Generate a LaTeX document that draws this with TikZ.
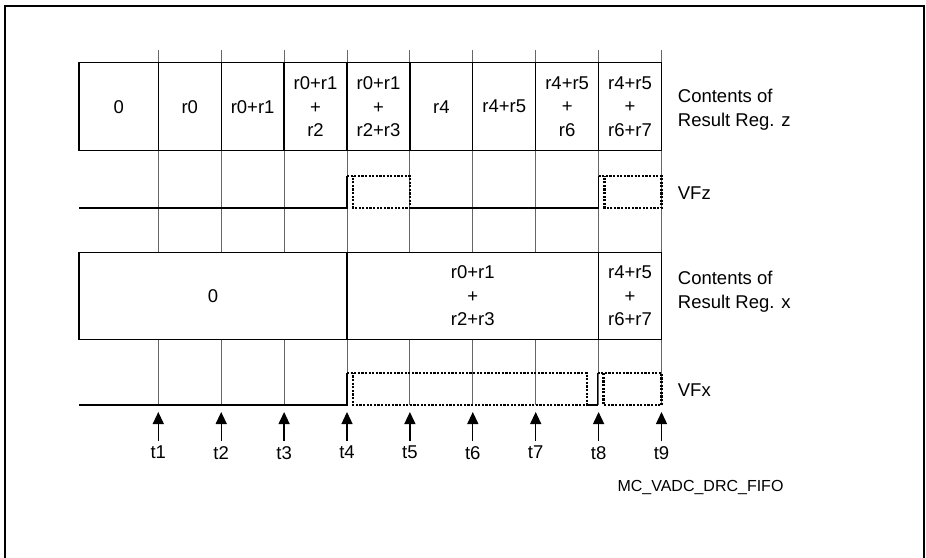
\documentclass[tikz,border=0pt]{standalone}
\usepackage{fontspec}
\setmainfont{Liberation Sans}
\usetikzlibrary{positioning,arrows.meta}

\tikzset{
  cell/.style={draw,fill=white,line width=1.3pt,inner sep=0pt,outer sep=0pt,
    align=center,minimum height=88pt,font=\fontsize{18.5}{23.5}\selectfont},
  gridline/.style={draw=black!60,line width=1pt},
  sig/.style={line width=1.3pt},
  hint/.style={line width=2.4pt,dash pattern=on 2.2pt off 1.4pt},
  lbl/.style={anchor=west,align=left,inner sep=0pt,font=\fontsize{18.5}{23.5}\selectfont},
}

\begin{document}
\begin{tikzpicture}[x=1pt,y=-1pt,>={Triangle[length=12pt,width=11pt]}]
    \useasboundingbox (0,0) rectangle (926,557);
    \draw[line width=2pt] (5,570) -- (5,6) -- (924,6) -- (924,570);

    % time points
    \foreach \i in {1,...,9} {
        \coordinate (c\i) at ({95.4+62.9*\i},405);
        \draw[gridline] (c\i) -- ++(0,-355);
    }

    % result register z
    \node[cell,minimum width=79.3pt,anchor=north west] (z0) at (79,62.7) {0};
    \node[cell,minimum width=62.9pt,right=0pt of z0] (z1) {r0};
    \node[cell,minimum width=62.9pt,right=0pt of z1] (z2) {r0+r1};
    \node[cell,minimum width=62.9pt,right=0pt of z2] (z3) {r0+r1\\+\\r2};
    \node[cell,minimum width=62.9pt,right=0pt of z3] (z4) {r0+r1\\+\\r2+r3};
    \node[cell,minimum width=62.9pt,right=0pt of z4] (z5) {r4};
    \node[cell,minimum width=62.9pt,right=0pt of z5] (z6) {r4+r5};
    \node[cell,minimum width=62.9pt,right=0pt of z6] (z7) {r4+r5\\+\\r6};
    \node[cell,minimum width=62.9pt,right=0pt of z7] (z8) {r4+r5\\+\\r6+r7};

    % result register x
    \node[cell,minimum width=268pt,minimum height=87pt,anchor=north west] (x0) at (79,252.3) {0};
    \node[cell,minimum width=251.6pt,minimum height=87pt,right=0pt of x0] (x1) {r0+r1\\+\\r2+r3};
    \node[cell,minimum width=62.9pt,minimum height=87pt,right=0pt of x1] (x2) {r4+r5\\+\\r6+r7};

    % VFz
    \draw[sig] (79,208) -- (347,208) -- (347,176);
    \draw[hint] (347,176) -- (409.9,176) -- (409.9,208) -- (353,208) -- (353,176);
    \draw[sig] (409.9,208) -- (598.6,208) -- (598.6,176);
    \draw[hint] (598.6,176) -- (661.5,176) -- (661.5,208) -- (604.6,208) -- (604.6,176);

    % VFx
    \draw[sig] (79,405) -- (347,405) -- (347,373);
    \draw[hint] (347,373) -- (586.7,373) -- (586.7,405) -- (353,405) -- (353,373);
    \draw[sig] (586.7,405) -- (597.5,405) -- (597.5,373);
    \draw[hint] (597.5,373) -- (661.5,373) -- (661.5,405) -- (603.5,405) -- (603.5,373);

    % arrows and labels
    \foreach \i in {1,...,9} {
        \coordinate[below=7pt of c\i] (a\i);
        \node[lbl,anchor=north,below=41pt of c\i] (t\i) {t\i};
        \draw[->,sig,shorten <=5pt] (t\i.north) -- (a\i);
    }

    \node[lbl] (regz) at (677.7,109.5) {Contents of\\Result Reg. z};
    \node[lbl] (vfz) at (677.7,193) {VFz};
    \node[lbl] (regx) at (677.7,291.5) {Contents of\\Result Reg. x};
    \node[lbl] (vfx) at (677.7,390) {VFx};
    \node[inner sep=0pt,font=\fontsize{16}{18}\selectfont] (fig) at (700.5,487) {MC\_VADC\_DRC\_FIFO};
\end{tikzpicture}
\end{document}
